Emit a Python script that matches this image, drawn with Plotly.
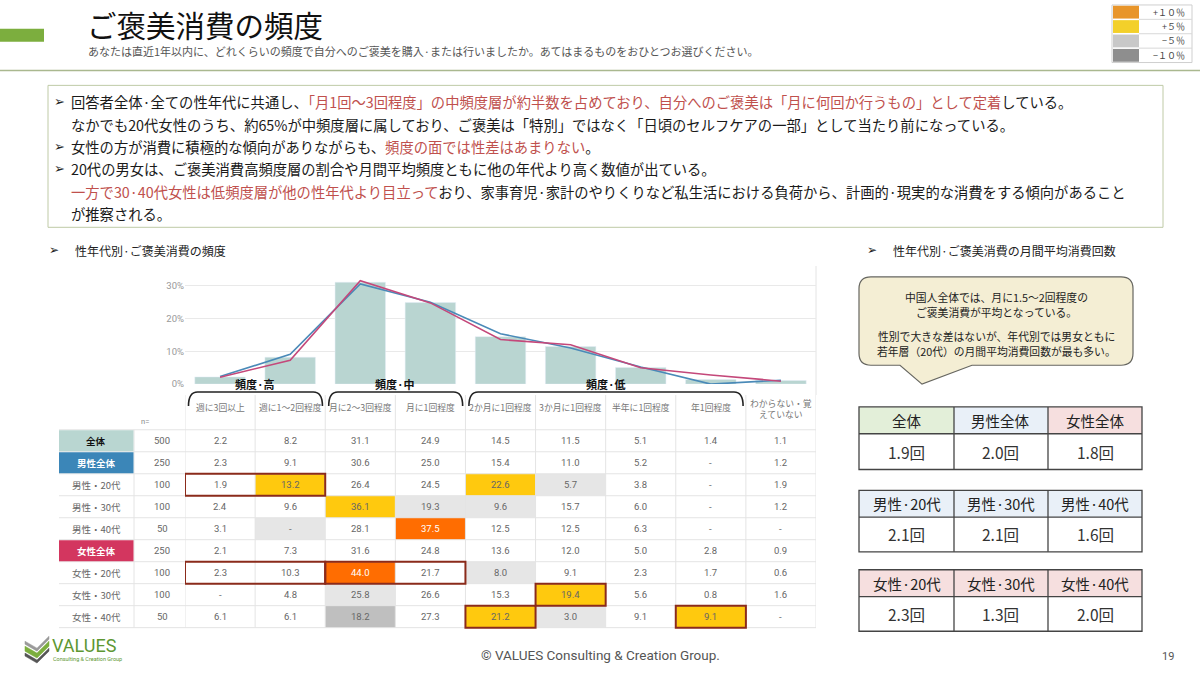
import plotly.graph_objects as go

W, H = 1200, 673
FONT = "Noto Sans CJK JP, DejaVu Sans"
NUMFONT = "Roboto, Noto Sans CJK JP"

# ---------------- data ----------------
categories = ["週に3回以上", "週に1～2回程度", "月に2～3回程度", "月に1回程度",
              "2か月に1回程度", "3か月に1回程度", "半年に1回程度", "年1回程度",
              "わからない・覚<br>えていない"]
band_labels = ["頻度·高", "頻度·中", "頻度·低"]
band_spans = [(0, 1), (2, 3), (4, 7)]

row_labels = ["全体", "男性全体", "男性・20代", "男性・30代", "男性・40代",
              "女性全体", "女性・20代", "女性・30代", "女性・40代"]
row_n = [500, 250, 100, 100, 50, 250, 100, 100, 50]

total      = [2.2, 8.2, 31.1, 24.9, 14.5, 11.5, 5.1, 1.4, 1.1]
male_all   = [2.3, 9.1, 30.6, 25.0, 15.4, 11.0, 5.2, None, 1.2]
male_20s   = [1.9, 13.2, 26.4, 24.5, 22.6, 5.7, 3.8, None, 1.9]
male_30s   = [2.4, 9.6, 36.1, 19.3, 9.6, 15.7, 6.0, None, 1.2]
male_40s   = [3.1, None, 28.1, 37.5, 12.5, 12.5, 6.3, None, None]
female_all = [2.1, 7.3, 31.6, 24.8, 13.6, 12.0, 5.0, 2.8, 0.9]
female_20s = [2.3, 10.3, 44.0, 21.7, 8.0, 9.1, 2.3, 1.7, 0.6]
female_30s = [None, 4.8, 25.8, 26.6, 15.3, 19.4, 5.6, 0.8, 1.6]
female_40s = [6.1, 6.1, 18.2, 27.3, 21.2, 3.0, 9.1, 9.1, None]
table_rows = [total, male_all, male_20s, male_30s, male_40s,
              female_all, female_20s, female_30s, female_40s]

# difference marks vs 全体
marks = {
    2: {1: "+5", 4: "+5", 5: "-5"},
    3: {2: "+5", 3: "-5", 4: "-5"},
    4: {1: "-5", 3: "+10"},
    6: {2: "+10", 4: "-5"},
    7: {2: "-5", 5: "+5"},
    8: {2: "-10", 4: "+5", 5: "-5", 7: "+5"},
}
framed = [(2, 0, 1), (6, 0, 1), (6, 2, 3), (7, 5, 5), (8, 4, 4), (8, 7, 7)]

legend_keys = ["+10", "+5", "-5", "-10"]
legend_text = ["+１０％", "+５％", "−５％", "−１０％"]

avg_tables = [
    (["全体", "男性全体", "女性全体"], [1.9, 2.0, 1.8]),
    (["男性·20代", "男性·30代", "男性·40代"], [2.1, 2.1, 1.6]),
    (["女性·20代", "女性·30代", "女性·40代"], [2.3, 1.3, 2.0]),
]

# ---------------- helpers ----------------
def PX(x): return x / W
def PY(y): return 1 - y / H

shapes, ann = [], []

def rect_px(x0, y0, x1, y1, fill="rgba(0,0,0,0)", lc=None, lw=1, layer="below"):
    shapes.append(dict(type="rect", xref="paper", yref="paper",
                       x0=PX(x0), x1=PX(x1), y0=PY(y1), y1=PY(y0),
                       fillcolor=fill, layer=layer,
                       line=dict(color=lc or "rgba(0,0,0,0)", width=lw if lc else 0)))

def line_px(x0, y0, x1, y1, color, width=1, layer="above"):
    shapes.append(dict(type="line", xref="paper", yref="paper",
                       x0=PX(x0), x1=PX(x1), y0=PY(y0), y1=PY(y1), layer=layer,
                       line=dict(color=color, width=width)))

def text_px(x, y, text, size, color="#222", anchor="left", family=FONT):
    ann.append(dict(xref="paper", yref="paper", x=PX(x), y=PY(y),
                    text=text, showarrow=False, xanchor=anchor, yanchor="middle",
                    font=dict(size=size, color=color, family=family)))

def path_px(pts, fill, lc, lw):
    d = ""
    for cmd, *xy in pts:
        d += cmd
        for i in range(0, len(xy), 2):
            d += f" {PX(xy[i]):.5f},{PY(xy[i+1]):.5f}"
        d += " "
    shapes.append(dict(type="path", xref="paper", yref="paper", path=d + "Z",
                       fillcolor=fill, line=dict(color=lc, width=lw), layer="below"))

RED = "#c0504d"

# ---------------- header ----------------
rect_px(0, 29, 44, 42, fill="#7cae3e")
text_px(85, 24, "ご褒美消費の頻度", 29.5, "#111")
text_px(86, 51, "あなたは直近1年以内に、どれくらいの頻度で自分へのご褒美を購入·または行いましたか。あてはまるものをおひとつお選びください。",
        11, "#555")
line_px(0, 71, 1200, 71, "#aab88f", 1.5)

# legend (top right)
leg_fill = {"+10": "#e8952a", "+5": "#f3d02a", "-5": "#c8c8c8", "-10": "#8e8e8e"}
rows_y = [5, 19.5, 34, 48.5, 63]
rect_px(1112, 5, 1192, 63, lc="#cfcfcf", lw=1)
for i, k in enumerate(legend_keys):
    rect_px(1113, rows_y[i] + 0.8, 1139, rows_y[i + 1] - 0.8, fill=leg_fill[k])
    if i > 0:
        line_px(1139, rows_y[i], 1192, rows_y[i], "#d8d8d8", 1)
    text_px(1187, (rows_y[i] + rows_y[i + 1]) / 2, legend_text[i], 9, "#444", "right")

# ---------------- summary box ----------------
rect_px(48, 86, 1163, 229, lc="#bfcaa6", lw=1)
TS = 14.3
lines = [
    (102, True, "回答者全体·全ての性年代に共通し、<span style='color:%s'>「月1回～3回程度」の中頻度層が約半数を占めており、自分へのご褒美は「月に何回か行うもの」として定着</span>している。" % RED),
    (125, False, "なかでも20代女性のうち、約65%が中頻度層に属しており、ご褒美は「特別」ではなく「日頃のセルフケアの一部」として当たり前になっている。"),
    (148, True, "女性の方が消費に積極的な傾向がありながらも、<span style='color:%s'>頻度の面では性差はあまりない</span>。" % RED),
    (170, True, "20代の男女は、ご褒美消費高頻度層の割合や月間平均頻度ともに他の年代より高く数値が出ている。"),
    (193, False, "<span style='color:%s'>一方で30·40代女性は低頻度層が他の性年代より目立って</span>おり、家事育児·家計のやりくりなど私生活における負荷から、計画的·現実的な消費をする傾向があること" % RED),
    (215, False, "が推察される。"),
]
for y, bullet, t in lines:
    if bullet:
        text_px(52, y, "➢", 13, "#222", family="DejaVu Sans")
    text_px(69, y, t, TS, "#1a1a1a")

# section headers
text_px(47, 252, "➢", 12, "#222", family="DejaVu Sans")
text_px(73, 252, "性年代別·ご褒美消費の頻度", 12, "#222")
text_px(865, 252, "➢", 12, "#222", family="DejaVu Sans")
text_px(891, 252, "性年代別·ご褒美消費の月間平均消費回数", 12, "#222")

# ---------------- chart ----------------
X0, X1 = 185, 816
Y_ZERO, Y_TOP = 387, 280
YMAX = (Y_ZERO - Y_TOP) / 3.3

male_line = [v if v is not None else 0 for v in male_all]
female_line = [v if v is not None else 0 for v in female_all]

fig = go.Figure()
fig.add_trace(go.Bar(x=categories, y=total, marker_color="#b9d5d1", width=0.72,
                     hoverinfo="skip", name="全体"))
fig.add_trace(go.Scatter(x=categories, y=male_line, mode="lines",
                         line=dict(color="#4a8ab8", width=1.6), name="男性全体"))
fig.add_trace(go.Scatter(x=categories, y=female_line, mode="lines",
                         line=dict(color="#c4487a", width=1.6), name="女性全体"))

# brackets + band labels
BR_TOP, BR_BOT = PY(395), PY(409)
for (c0, c1), lab in zip(band_spans, band_labels):
    a = c0 - 0.5 + 0.05
    b = c1 + 0.5 - 0.04
    r = 0.13
    d = (f"M {a},{BR_BOT} Q {a},{BR_TOP} {a + r},{BR_TOP} "
         f"L {b - r},{BR_TOP} Q {b},{BR_TOP} {b},{BR_BOT}")
    shapes.append(dict(type="path", xref="x", yref="paper", path=d,
                       line=dict(color="#222", width=1.6), layer="above"))
    ann.append(dict(xref="x", yref="paper", x=(c0 + c1) / 2, y=PY(387), text="<b>%s</b>" % lab,
                    showarrow=False, xanchor="center", yanchor="middle",
                    font=dict(size=11, color="#111", family=FONT)))

# ---------------- table ----------------
ROW_TOP, ROW_H = 433.0, 22.15
GRID = "#e4e4e4"
cell_fill = {"+10": "#ff6d01", "+5": "#ffc90e", "-5": "#e6e6e6", "-10": "#bfbfbf"}

def ry(i):  # top of row i in px
    return ROW_TOP + ROW_H * i

# column headers
for k, c in enumerate(categories):
    ann.append(dict(xref="x", yref="paper", x=k, y=PY(412 if "<br>" in c else 411), text=c,
                    showarrow=False, xanchor="center", yanchor="middle",
                    font=dict(size=8.8, color="#777", family=FONT)))
text_px(145, 425, "n=", 7.5, "#888", "center", family=NUMFONT)

# fills for data cells
for i, row in enumerate(table_rows):
    for k in range(len(categories)):
        m = marks.get(i, {}).get(k)
        if m:
            shapes.append(dict(type="rect", xref="x", yref="paper", x0=k - 0.5, x1=k + 0.5,
                               y0=PY(ry(i + 1)), y1=PY(ry(i)), fillcolor=cell_fill[m],
                               line=dict(width=0), layer="below"))

# grid lines
for i in range(10):
    line_px(59, ry(i), X1, ry(i), GRID, 1, layer="below")
for k in range(len(categories) + 1):
    shapes.append(dict(type="line", xref="x", yref="paper", x0=k - 0.5, x1=k - 0.5,
                       y0=PY(398), y1=PY(ry(9)), line=dict(color=GRID, width=1), layer="below"))
line_px(134, ry(0), 134, ry(9), GRID, 1, layer="below")
line_px(X1, 268, X1, 398, GRID, 1, layer="below")

# row labels
label_style = {0: ("#b9d6d1", "#111"), 1: ("#3b86b8", "#fff"), 5: ("#d3365f", "#fff")}
for i, lab in enumerate(row_labels):
    cy = ry(i) + ROW_H / 2
    if i in label_style:
        fc, tc = label_style[i]
        rect_px(59, ry(i) + 0.5, 133.5, ry(i + 1) - 0.5, fill=fc)
        text_px(96, cy, "<b>%s</b>" % lab, 9.5, tc, "center")
    else:
        text_px(96, cy, lab, 9.5, "#666", "center")
    text_px(162, cy, str(row_n[i]), 9.5, "#666", "center", family=NUMFONT)
    for k, v in enumerate(table_rows[i]):
        m = marks.get(i, {}).get(k)
        col = "#fff" if m == "+10" else "#666"
        txt = "-" if v is None else f"{v:.1f}"
        ann.append(dict(xref="x", yref="paper", x=k, y=PY(cy), text=txt, showarrow=False,
                        xanchor="center", yanchor="middle",
                        font=dict(size=9.5, color=col, family=NUMFONT)))

# framed cells
for (i, c0, c1) in framed:
    shapes.append(dict(type="rect", xref="x", yref="paper", x0=c0 - 0.5, x1=c1 + 0.5,
                       y0=PY(ry(i + 1)), y1=PY(ry(i)),
                       line=dict(color="#8b2b1b", width=2), layer="above"))

# ---------------- speech bubble ----------------
bx0, by0, bx1, by1, rr = 859, 279, 1133, 368, 12
path_px([("M", bx0 + rr, by0), ("L", bx1 - rr, by0), ("Q", bx1, by0, bx1, by0 + rr),
         ("L", bx1, by1 - rr), ("Q", bx1, by1, bx1 - rr, by1), ("L", 972, by1),
         ("L", 922, 387), ("L", 900, by1), ("L", bx0 + rr, by1),
         ("Q", bx0, by1, bx0, by1 - rr), ("L", bx0, by0 + rr), ("Q", bx0, by0, bx0 + rr, by0)],
        "#f4eed4", "#666660", 1.2)
for y, t in [(299, "中国人全体では、月に1.5～2回程度の"), (314, "ご褒美消費が平均となっている。"),
             (339, "性別で大きな差はないが、年代別では男女ともに"), (354, "若年層（20代）の月間平均消費回数が最も多い。")]:
    text_px(996, y, t, 10.8, "#222", "center")

# ---------------- average tables ----------------
cols_x = [859, 954, 1048, 1142]
tops = [(410, 437, 473), (494, 521, 556), (574, 601, 636)]
hdr_fill = {"全体": "#e3efd9", "男性": "#e9f0f8", "女性": "#f6dfdf"}
for (labs, vals), (t0, t1, t2) in zip(avg_tables, tops):
    for j, (lab, v) in enumerate(zip(labs, vals)):
        key = "全体" if lab == "全体" else lab[:2]
        rect_px(cols_x[j], t0, cols_x[j + 1], t1, fill=hdr_fill[key])
        text_px((cols_x[j] + cols_x[j + 1]) / 2, (t0 + t1) / 2, lab, 14.5, "#222", "center")
        text_px((cols_x[j] + cols_x[j + 1]) / 2, (t1 + t2) / 2, f"{v:.1f}回", 15.5, "#333", "center")
    rect_px(cols_x[0], t0, cols_x[-1], t2, lc="#444", lw=1.3, layer="above")
    line_px(cols_x[0], t1, cols_x[-1], t1, "#444", 1.3)
    for xx in cols_x[1:-1]:
        line_px(xx, t0, xx, t2, "#444", 1.3)

# ---------------- footer ----------------
path_px([("M", 25, 646), ("L", 37, 653), ("L", 49, 641), ("L", 49, 644), ("L", 37, 656), ("L", 25, 649)],
        "#9a9a9a", "#9a9a9a", 0.5)
path_px([("M", 25, 651), ("L", 37, 658), ("L", 49, 646), ("L", 49, 651), ("L", 37, 663), ("L", 25, 656)],
        "#7cae3e", "#7cae3e", 0.5)
path_px([("M", 25, 658), ("L", 37, 665), ("L", 49, 653), ("L", 49, 656), ("L", 37, 668), ("L", 25, 661)],
        "#555555", "#555555", 0.5)
text_px(50, 650, "VALUES", 18, "#5e9732", family="Liberation Sans Narrow, Roboto")
text_px(51, 664, "Consulting &amp; Creation Group", 5.5, "#5e9732", family="Liberation Sans Narrow, Roboto")
text_px(600, 660, "© VALUES Consulting &amp; Creation Group.", 13.5, "#555", "center",
        family="Liberation Sans Narrow, Roboto")
text_px(1168, 661, "19", 11, "#555", "center", family="Liberation Sans Narrow, Roboto")

fig.update_layout(
    width=W, height=H, margin=dict(l=0, r=0, t=0, b=0),
    paper_bgcolor="white", plot_bgcolor="white", showlegend=False,
    shapes=shapes, annotations=ann, bargap=0.28,
    xaxis=dict(domain=[PX(X0), PX(X1)], range=[-0.5, 8.5], showticklabels=False,
               showgrid=False, zeroline=False, showline=False, fixedrange=True),
    yaxis=dict(domain=[PY(Y_ZERO), PY(Y_TOP)], range=[0, YMAX], tickmode="array",
               tickvals=[0, 10, 20, 30], ticktext=["0%", "10%", "20%", "30%"],
               showgrid=True, gridcolor="#e9e9e9", zeroline=False,
               tickfont=dict(size=9.5, color="#999", family=NUMFONT), fixedrange=True),
    font=dict(family=FONT),
)
fig.write_html("out.html", config={"displayModeBar": False},
               post_script="document.body.style.margin='0';document.body.style.overflow='hidden';")
